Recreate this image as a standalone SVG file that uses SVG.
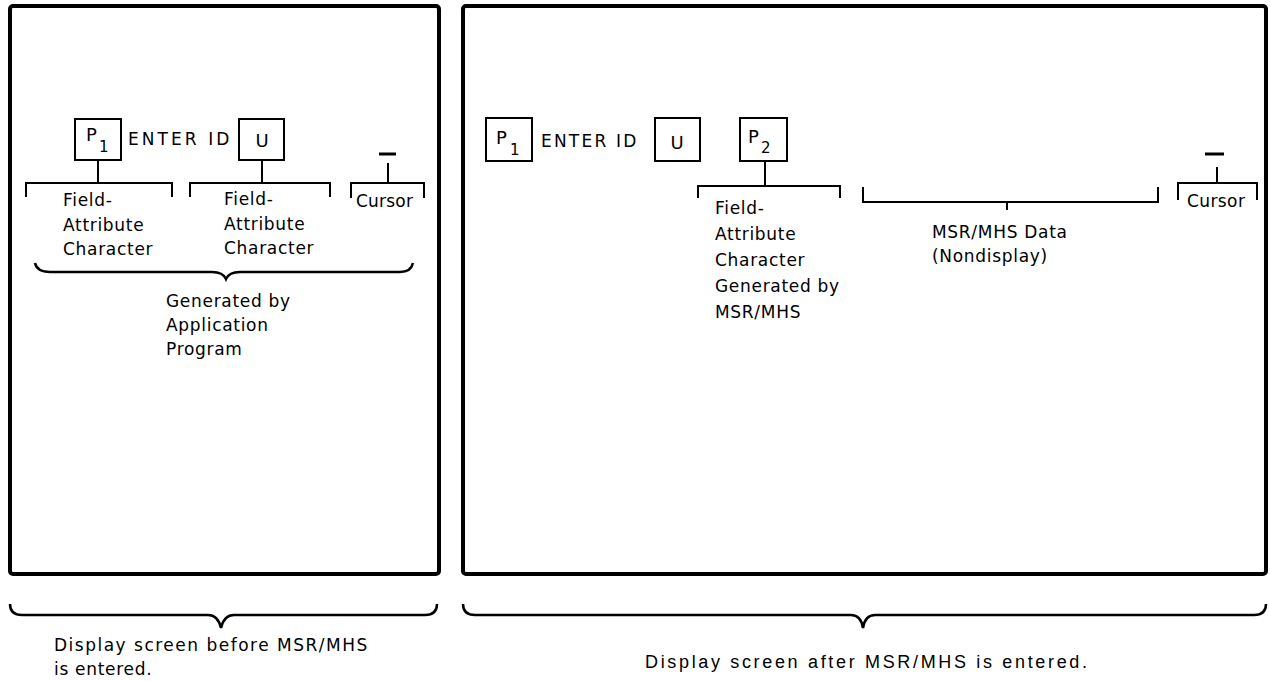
<svg xmlns="http://www.w3.org/2000/svg" width="1270" height="681" viewBox="0 0 1270 681">
<style>
.t{font-family:"DejaVu Sans","Liberation Sans",sans-serif;font-size:17px;fill:#000;letter-spacing:0.7px}
.p{font-family:"DejaVu Sans","Liberation Sans",sans-serif;font-size:18px;fill:#000}
.s{font-family:"DejaVu Sans","Liberation Sans",sans-serif;font-size:15px;fill:#000}
.c{font-family:"Liberation Sans",Arial,sans-serif;font-size:18px;fill:#000}
.ln{fill:none;stroke:#000;stroke-width:2}
.box{fill:none;stroke:#000;stroke-width:2}
.scr{fill:none;stroke:#000;stroke-width:4}
</style>
<rect width="1270" height="681" fill="#fff"/>
<g id="screen-before">
<rect class="scr" x="10" y="6" width="429" height="568" rx="3"/>
</g>
<g id="screen-after">
<rect class="scr" x="463" y="6" width="803" height="568" rx="3"/>
</g>
<g id="left-p1">
<rect class="box" x="75" y="119" width="46" height="41"/>
<text class="p" x="86" y="141">P</text>
<text class="s" x="99" y="152">1</text>
</g>
<g id="left-enter"><text class="t" x="128" y="145" textLength="102">ENTER ID</text></g>
<g id="left-u">
<rect class="box" x="239" y="119" width="45" height="41"/>
<text class="p" x="262" y="147" text-anchor="middle">U</text>
</g>
<g id="left-fa1">
<text class="t" x="63" y="206">Field-</text>
<text class="t" x="63" y="231">Attribute</text>
<text class="t" x="63" y="255">Character</text>
</g>
<g id="left-fa2">
<text class="t" x="224" y="205">Field-</text>
<text class="t" x="224" y="230">Attribute</text>
<text class="t" x="224" y="254">Character</text>
</g>
<g id="left-cursor">
<text class="t" x="356" y="207" style="letter-spacing:0.2px">Cursor</text>
</g>
<g id="left-generated">
<text class="t" x="166" y="307">Generated by</text>
<text class="t" x="166" y="331">Application</text>
<text class="t" x="166" y="355">Program</text>
</g>
<g id="right-p1">
<rect class="box" x="486" y="118" width="46" height="43"/>
<text class="p" x="496" y="144">P</text>
<text class="s" x="510" y="155">1</text>
</g>
<g id="right-enter"><text class="t" x="541" y="147" textLength="96">ENTER ID</text></g>
<g id="right-u">
<rect class="box" x="655" y="118" width="45" height="43"/>
<text class="p" x="677" y="149" text-anchor="middle">U</text>
</g>
<g id="right-p2">
<rect class="box" x="740" y="118" width="47" height="43"/>
<text class="p" x="748" y="143">P</text>
<text class="s" x="761" y="153">2</text>
</g>
<g id="right-fa">
<text class="t" x="715" y="214">Field-</text>
<text class="t" x="715" y="240">Attribute</text>
<text class="t" x="715" y="266">Character</text>
<text class="t" x="715" y="292">Generated by</text>
<text class="t" x="715" y="318">MSR/MHS</text>
</g>
<g id="right-data">
<text class="t" x="932" y="238">MSR/MHS Data</text>
<text class="t" x="932" y="262">(Nondisplay)</text>
</g>
<g id="right-cursor">
<text class="t" x="1187" y="207" style="letter-spacing:0.4px">Cursor</text>
</g>
<g id="caption-before">
<text class="t" x="54" y="651" textLength="314">Display screen before MSR/MHS</text>
<text class="t" x="54" y="675">is entered.</text>
</g>
<g id="caption-after">
<text class="c" x="645" y="668" textLength="442">Display screen after MSR/MHS is entered.</text>
</g>
<g id="connectors">
<path class="ln" d="M98 160V183M26 197V183H172V197"/>
<path class="ln" d="M262 160V183M190 197V183H330V197"/>
<path class="ln" d="M379 154H396" style="stroke-width:3"/>
<path class="ln" d="M388 163V183M351 198V183H424V198"/>
<path class="ln" d="M35 263Q37 272 50 272H212Q223 272 226 279Q229 272 240 272H400Q411 272 413 263" style="stroke-width:2.5"/>
<path class="ln" d="M765 161V186M698 198V186H840V198"/>
<path class="ln" d="M863 187V202H1158V187M1007 202V210"/>
<path class="ln" d="M1205 154H1224" style="stroke-width:3"/>
<path class="ln" d="M1217 167V183M1178 200V183H1257V200"/>
<path class="ln" d="M10 604Q10 615 22 615H208Q218 615 221 628Q224 615 234 615H425Q437 615 437 604" style="stroke-width:2.5"/>
<path class="ln" d="M463 604Q463 615 475 615H851Q861 615 863 628Q865 615 875 615H1254Q1266 615 1266 604" style="stroke-width:2.5"/>
</g>
</svg>
